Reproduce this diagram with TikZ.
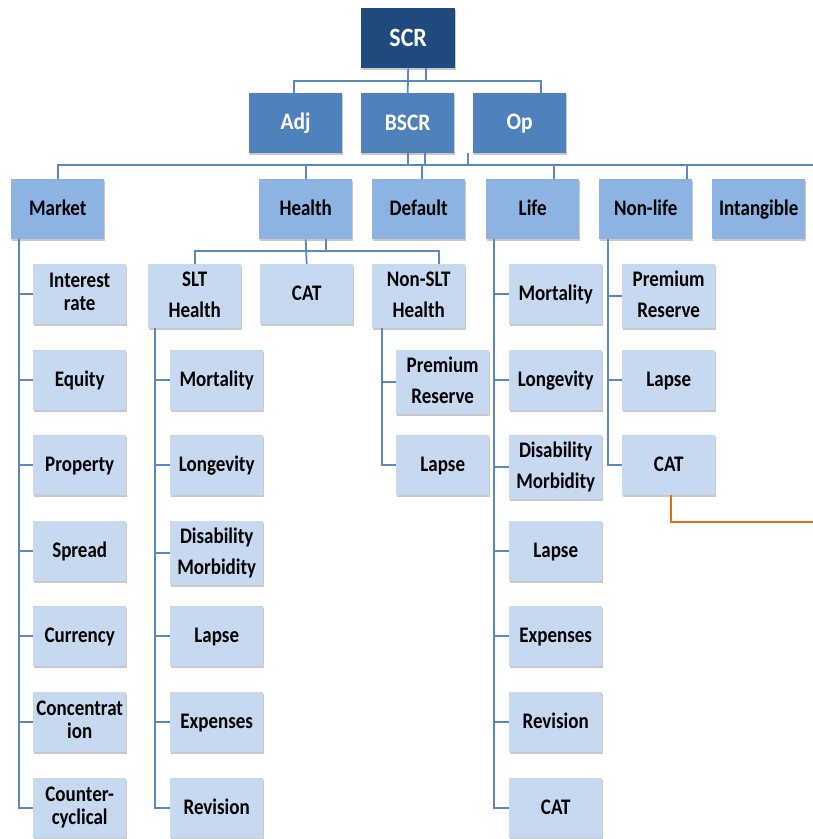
\documentclass[tikz,border=0pt]{standalone}
\usepackage{fontspec}
\setmainfont{Carlito}
\usetikzlibrary{shadows,calc}
\definecolor{navy}{HTML}{1F4A7E}
\definecolor{midblue}{HTML}{4F81BD}
\definecolor{lvltwo}{HTML}{8DB3E2}
\definecolor{lvlthree}{HTML}{C6D9F1}
\definecolor{lineblue}{HTML}{5B87C2}
\definecolor{hotline}{HTML}{E46C0A}
\newcommand{\stx}[2][26.5]{\scalebox{1}[1.17]{\fontsize{19}{#1}\selectfont\begin{tabular}{@{}c@{}}#2\end{tabular}}}
\newcommand{\bigtx}[2]{\scalebox{1}[1.1]{\fontsize{#1}{#1}\selectfont #2}}
\begin{document}
\begin{tikzpicture}[x=1pt,y=-1pt,
 bx/.style={rectangle, anchor=north west, minimum width=93pt, minimum height=60pt, inner sep=1pt, align=center,
   font=\bfseries\fontsize{19}{26}\selectfont,
   drop shadow={shadow xshift=0.6pt, shadow yshift=-2pt, opacity=0.3, fill=black!70}},
 lzero/.style={bx, minimum width=94pt, fill=navy, text=white},
 lone/.style={bx, fill=midblue, text=white},
 ltwo/.style={bx, fill=lvltwo, text=black},
 lthree/.style={bx, fill=lvlthree, text=black},
 conn/.style={draw=lineblue, line width=1.8pt},
 hot/.style={draw=hotline, line width=2pt}]
\useasboundingbox (0,0) rectangle (813,839);

% level 0 / 1
\node[lzero] (scr) at (361,8) {\bigtx{24}{SCR}};
\node[lone] (adj) at (249,93) {\bigtx{21.5}{Adj}};
\node[lone] (bscr) at (361,93) {\bigtx{21.5}{BSCR}};
\node[lone] (op) at (473,93) {\bigtx{21.5}{Op}};

% level 2
\node[ltwo] (market) at (11,179) {\stx{Market}};
\node[ltwo] (health) at (259,179) {\stx{Health}};
\node[ltwo] (default) at (372,179) {\stx{Default}};
\node[ltwo] (life) at (486,179) {\stx{Life}};
\node[ltwo] (nonlife) at (599,179) {\stx{Non-life}};
\node[ltwo] (intang) at (712,179) {\stx{Intangible}};

% health sub
\node[lthree] (slt) at (148,264) {\stx{SLT\\Health}};
\node[lthree] (hcat) at (260,264) {\stx{CAT}};
\node[lthree] (nonslt) at (372,264) {\stx{Non-SLT\\Health}};

% market children
\node[lthree] (m1) at (33,264) {\stx[20]{Interest\\rate}};
\node[lthree] (m2) at (33,350) {\stx{Equity}};
\node[lthree] (m3) at (33,435) {\stx{Property}};
\node[lthree] (m4) at (33,521) {\stx{Spread}};
\node[lthree] (m5) at (33,606) {\stx{Currency}};
\node[lthree] (m6) at (33,692) {\stx[20]{Concentrat\\ion}};
\node[lthree] (m7) at (33,778) {\stx[19.5]{Counter-\\cyclical}};

% SLT health children
\node[lthree] (s1) at (170,350) {\stx{Mortality}};
\node[lthree] (s2) at (170,435) {\stx{Longevity}};
\node[lthree] (s3) at (170,521) {\stx{Disability\\Morbidity}};
\node[lthree] (s4) at (170,606) {\stx{Lapse}};
\node[lthree] (s5) at (170,692) {\stx{Expenses}};
\node[lthree] (s6) at (170,778) {\stx{Revision}};

% Non-SLT health children
\node[lthree] (n1) at (396,350) {\stx{Premium\\Reserve}};
\node[lthree] (n2) at (396,435) {\stx{Lapse}};

% Life children
\node[lthree] (l1) at (509,264) {\stx{Mortality}};
\node[lthree] (l2) at (509,350) {\stx{Longevity}};
\node[lthree] (l3) at (509,435) {\stx{Disability\\Morbidity}};
\node[lthree] (l4) at (509,521) {\stx{Lapse}};
\node[lthree] (l5) at (509,606) {\stx{Expenses}};
\node[lthree] (l6) at (509,692) {\stx{Revision}};
\node[lthree] (l7) at (509,778) {\stx{CAT}};

% Non-life children
\node[lthree] (nl1) at (622,264) {\stx{Premium\\Reserve}};
\node[lthree] (nl2) at (622,350) {\stx{Lapse}};
\node[lthree] (nl3) at (622,435) {\stx{CAT}};

\coordinate (busend) at (813,165);
\coordinate (hotend) at (813,522);

% top connectors
\draw[conn] (scr.south) -- (bscr.north);
\draw[conn] ($(scr.south)+(18,0)$) -- ++(0,13);
\draw[conn] ($(adj.north)+(-2,0)$) -- ++(0,-12) -| ($(op.north)+(21,0)$);

% level 2 bus
\draw[conn] (market.north) -- ++(0,-14) -- (busend);
\draw[conn] (health.north) -- ++(0,-14);
\draw[conn] ($(default.north)+(3,0)$) -- ++(0,-14);
\draw[conn] ($(life.north)+(21,0)$) -- ++(0,-14);
\draw[conn] ($(nonlife.north)+(41,0)$) -- ++(0,-14);
\draw[conn] (bscr.south) -- ++(0,12);
\draw[conn] ($(bscr.south)+(17,0)$) -- ++(0,12);
\draw[conn] ($(op.south west)+(-5,0)$) -- ++(0,12);

% health bus
\draw[conn] (health.south) -- (hcat.north);
\draw[conn] ($(health.south)+(20,0)$) -- ++(0,12);
\draw[conn] (slt.north) -- ++(0,-13) -| ($(nonslt.north)+(20,0)$);

% trunks
\foreach \c in {m1,m2,m3,m4,m5,m6,m7}
  \draw[conn] ($(market.south west)+(8,0)$) |- (\c.west);
\foreach \c in {s1,s2,s3,s4,s5,s6}
  \draw[conn] ($(slt.south west)+(7,0)$) |- (\c.west);
\foreach \c in {n1,n2}
  \draw[conn] ($(nonslt.south west)+(10,0)$) |- (\c.west);
\foreach \c in {l1,l2,l3,l4,l5,l6,l7}
  \draw[conn] ($(life.south west)+(8,0)$) |- (\c.west);
\foreach \c in {nl1,nl2,nl3}
  \draw[conn] ($(nonlife.south west)+(9,0)$) |- (\c.west);

% orange line
\draw[hot] ($(nl3.south)+(2,0)$) |- (hotend);
\end{tikzpicture}
\end{document}
